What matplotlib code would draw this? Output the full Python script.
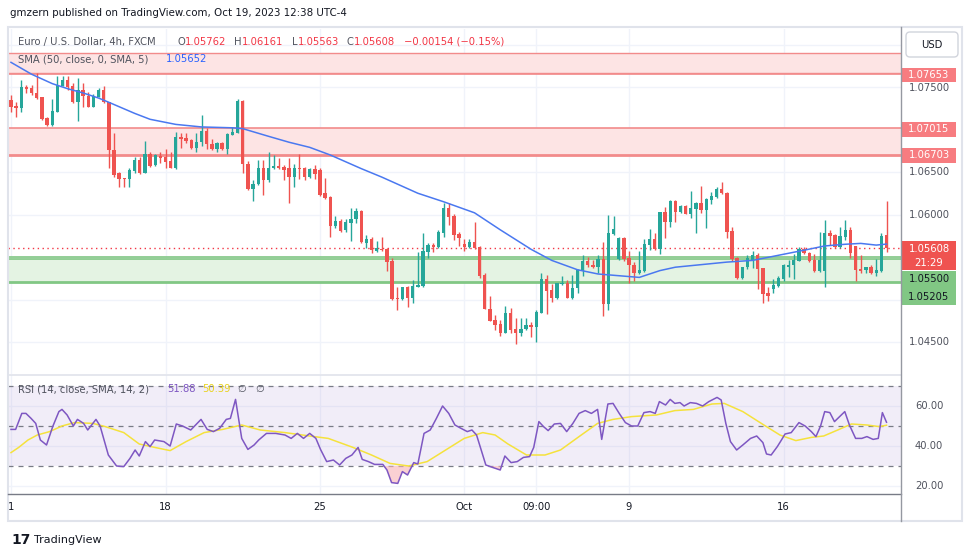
import matplotlib
matplotlib.use("Agg")
import matplotlib.pyplot as plt
from matplotlib.patches import Rectangle, FancyBboxPatch
import numpy as np

W, H = 970, 557

# ============ DATA ============
opens = [
    1.0735, 1.0728, 1.0725, 1.0750, 1.0749, 1.0743, 1.0738, 1.0714, 1.0705, 1.0721,
    1.0751, 1.0758, 1.0751, 1.0732, 1.0746, 1.0739, 1.0726, 1.0738, 1.0746, 1.0732,
    1.0676, 1.0649, 1.0643, 1.0642, 1.0651, 1.0664, 1.0649, 1.0671, 1.0658, 1.0669,
    1.0668, 1.0663, 1.0655, 1.0691, 1.0690, 1.0688, 1.0678, 1.0685, 1.0698, 1.0683,
    1.0677, 1.0684, 1.0677, 1.0694, 1.0696, 1.0734, 1.0659, 1.0630, 1.0636, 1.0655,
    1.0640, 1.0655, 1.0657, 1.0656, 1.0655, 1.0644, 1.0655, 1.0655, 1.0644, 1.0654,
    1.0652, 1.0625, 1.0621, 1.0587, 1.0592, 1.0582, 1.0590, 1.0595, 1.0604, 1.0567,
    1.0571, 1.0557, 1.0559, 1.0559, 1.0545, 1.0502, 1.0501, 1.0515, 1.0502, 1.0515,
    1.0516, 1.0556, 1.0564, 1.0562, 1.0578, 1.0608, 1.0598, 1.0577, 1.0565, 1.0562,
    1.0568, 1.0562, 1.0529, 1.0489, 1.0476, 1.0471, 1.0461, 1.0484, 1.0465, 1.0461,
    1.0465, 1.0470, 1.0468, 1.0484, 1.0524, 1.0511, 1.0502, 1.0518, 1.0519, 1.0502,
    1.0514, 1.0534, 1.0545, 1.0541, 1.0538, 1.0548, 1.0495, 1.0577, 1.0548, 1.0572,
    1.0549, 1.0541, 1.0531, 1.0534, 1.0564, 1.0571, 1.0559, 1.0603, 1.0591, 1.0616,
    1.0603, 1.0610, 1.0600, 1.0606, 1.0614, 1.0605, 1.0617, 1.0621, 1.0630, 1.0625,
    1.0581, 1.0549, 1.0525, 1.0538, 1.0547, 1.0552, 1.0537, 1.0508, 1.0512, 1.0516,
    1.0524, 1.0538, 1.0540, 1.0545, 1.0559, 1.0555, 1.0547, 1.0534, 1.0534, 1.0578,
    1.0576, 1.0562, 1.0574, 1.0582, 1.0563, 1.0536, 1.0535, 1.0538, 1.0531, 1.0534,
    1.05762,
]
highs = [
    1.0741, 1.0732, 1.0758, 1.0752, 1.0752, 1.0766, 1.0738, 1.0715, 1.0736, 1.0763,
    1.0763, 1.0763, 1.0755, 1.0761, 1.0755, 1.0744, 1.0742, 1.0749, 1.0751, 1.0732,
    1.0696, 1.0650, 1.0643, 1.0655, 1.0668, 1.0668, 1.0687, 1.0674, 1.0671, 1.0674,
    1.0677, 1.0673, 1.0697, 1.0696, 1.0696, 1.0689, 1.0696, 1.0717, 1.0702, 1.0689,
    1.0685, 1.0685, 1.0696, 1.0703, 1.0736, 1.0735, 1.0663, 1.0641, 1.0664, 1.0664,
    1.0673, 1.0670, 1.0667, 1.0658, 1.0667, 1.0659, 1.0671, 1.0656, 1.0655, 1.0658,
    1.0655, 1.0643, 1.0622, 1.0598, 1.0595, 1.0595, 1.0608, 1.0608, 1.0605, 1.0576,
    1.0574, 1.0569, 1.0574, 1.0561, 1.0549, 1.0515, 1.0515, 1.0516, 1.0523, 1.0556,
    1.0578, 1.0567, 1.0567, 1.0582, 1.0614, 1.0614, 1.0600, 1.0579, 1.0571, 1.0571,
    1.0591, 1.0563, 1.0531, 1.0504, 1.0482, 1.0476, 1.0492, 1.0490, 1.0478, 1.0478,
    1.0478, 1.0473, 1.0488, 1.0531, 1.0529, 1.0518, 1.0519, 1.0528, 1.0523, 1.0529,
    1.0536, 1.0552, 1.0550, 1.0547, 1.0552, 1.0568, 1.0599, 1.0598, 1.0573, 1.0574,
    1.0557, 1.0544, 1.0557, 1.0571, 1.0583, 1.0578, 1.0603, 1.0609, 1.0617, 1.0617,
    1.0611, 1.0611, 1.0628, 1.0615, 1.0634, 1.0619, 1.0627, 1.0632, 1.0638, 1.0627,
    1.0585, 1.0550, 1.0538, 1.0552, 1.0557, 1.0555, 1.0537, 1.0515, 1.0524, 1.0528,
    1.0542, 1.0547, 1.0554, 1.0562, 1.0562, 1.0556, 1.0554, 1.0579, 1.0594, 1.0582,
    1.0577, 1.0585, 1.0594, 1.0585, 1.0563, 1.0552, 1.0538, 1.0540, 1.0548, 1.0578,
    1.06161,
]
lows = [
    1.0721, 1.0715, 1.0721, 1.0743, 1.0741, 1.0736, 1.0711, 1.0704, 1.0704, 1.0721,
    1.0751, 1.0746, 1.0731, 1.0710, 1.0726, 1.0726, 1.0726, 1.0738, 1.0731, 1.0655,
    1.0644, 1.0632, 1.0632, 1.0632, 1.0649, 1.0648, 1.0649, 1.0656, 1.0657, 1.0661,
    1.0655, 1.0655, 1.0654, 1.0678, 1.0684, 1.0677, 1.0674, 1.0681, 1.0677, 1.0676,
    1.0673, 1.0676, 1.0671, 1.0693, 1.0696, 1.0649, 1.0629, 1.0616, 1.0635, 1.0623,
    1.0638, 1.0654, 1.0654, 1.0641, 1.0614, 1.0632, 1.0642, 1.0641, 1.0643, 1.0642,
    1.0622, 1.0618, 1.0574, 1.0584, 1.0579, 1.0579, 1.0569, 1.0590, 1.0567, 1.0561,
    1.0555, 1.0556, 1.0557, 1.0534, 1.0499, 1.0488, 1.0499, 1.0491, 1.0496, 1.0515,
    1.0515, 1.0549, 1.0556, 1.0561, 1.0574, 1.0588, 1.0570, 1.0563, 1.0557, 1.0561,
    1.0559, 1.0525, 1.0489, 1.0475, 1.0464, 1.0457, 1.0460, 1.0461, 1.0448, 1.0457,
    1.0464, 1.0456, 1.0450, 1.0484, 1.0483, 1.0497, 1.0501, 1.0517, 1.0502, 1.0501,
    1.0508, 1.0528, 1.0538, 1.0537, 1.0531, 1.0481, 1.0488, 1.0576, 1.0547, 1.0545,
    1.0519, 1.0522, 1.0530, 1.0532, 1.0558, 1.0558, 1.0554, 1.0572, 1.0585, 1.0591,
    1.0602, 1.0600, 1.0596, 1.0578, 1.0602, 1.0584, 1.0612, 1.0619, 1.0624, 1.0572,
    1.0545, 1.0524, 1.0524, 1.0536, 1.0537, 1.0512, 1.0496, 1.0498, 1.0508, 1.0515,
    1.0522, 1.0526, 1.0524, 1.0545, 1.0554, 1.0544, 1.0532, 1.0532, 1.0515, 1.0564,
    1.0561, 1.0561, 1.0570, 1.0549, 1.0522, 1.0531, 1.0531, 1.0530, 1.0528, 1.0532,
    1.05563,
]
closes = [
    1.0726, 1.0725, 1.0750, 1.0748, 1.0743, 1.0737, 1.0712, 1.0705, 1.0722, 1.0752,
    1.0758, 1.0750, 1.0732, 1.0746, 1.0739, 1.0726, 1.0739, 1.0746, 1.0732, 1.0676,
    1.0646, 1.0642, 1.0642, 1.0652, 1.0664, 1.0649, 1.0671, 1.0657, 1.0670, 1.0667,
    1.0662, 1.0655, 1.0691, 1.0689, 1.0687, 1.0678, 1.0685, 1.0698, 1.0683, 1.0677,
    1.0684, 1.0677, 1.0695, 1.0697, 1.0734, 1.0659, 1.0630, 1.0636, 1.0655, 1.0641,
    1.0655, 1.0657, 1.0655, 1.0652, 1.0644, 1.0655, 1.0654, 1.0644, 1.0654, 1.0648,
    1.0623, 1.0619, 1.0587, 1.0592, 1.0581, 1.0591, 1.0595, 1.0604, 1.0568, 1.0571,
    1.0558, 1.0561, 1.0558, 1.0544, 1.0501, 1.0500, 1.0515, 1.0502, 1.0516, 1.0517,
    1.0557, 1.0564, 1.0562, 1.0579, 1.0608, 1.0597, 1.0576, 1.0572, 1.0562, 1.0568,
    1.0561, 1.0528, 1.0489, 1.0475, 1.0470, 1.0461, 1.0484, 1.0464, 1.0461, 1.0465,
    1.0470, 1.0468, 1.0485, 1.0524, 1.0510, 1.0502, 1.0519, 1.0519, 1.0502, 1.0514,
    1.0535, 1.0545, 1.0540, 1.0538, 1.0548, 1.0495, 1.0578, 1.0583, 1.0572, 1.0548,
    1.0540, 1.0531, 1.0535, 1.0565, 1.0571, 1.0559, 1.0603, 1.0591, 1.0616, 1.0603,
    1.0610, 1.0600, 1.0608, 1.0614, 1.0605, 1.0618, 1.0622, 1.0630, 1.0625, 1.0579,
    1.0548, 1.0525, 1.0538, 1.0549, 1.0552, 1.0536, 1.0506, 1.0504, 1.0517, 1.0525,
    1.0540, 1.0541, 1.0547, 1.0559, 1.0555, 1.0545, 1.0534, 1.0547, 1.0578, 1.0575,
    1.0562, 1.0575, 1.0582, 1.0555, 1.0535, 1.0534, 1.0538, 1.0531, 1.0535, 1.0575,
    1.05608,
]

# SMA(50) at a few bars
sma_idx = [0, 4, 8, 11, 14, 17, 19, 24, 27, 32, 37, 43, 45, 50, 54, 58, 62, 68, 72, 79,
           84, 90, 95, 101, 105, 110, 114, 118, 122, 126, 129, 134, 139, 144, 149, 154,
           158, 162, 165, 168, 170]
sma_val = [1.0779, 1.0765, 1.0754, 1.0748, 1.0743, 1.0737, 1.0732, 1.0719, 1.0712, 1.0706,
           1.0703, 1.0702, 1.0701, 1.0692, 1.0685, 1.0679, 1.0670, 1.0654, 1.0644, 1.0625,
           1.0615, 1.0602, 1.0582, 1.0559, 1.0546, 1.0535, 1.0530, 1.0528, 1.0526, 1.0534,
           1.0538, 1.0541, 1.0544, 1.0546, 1.0552, 1.0558, 1.0563, 1.0565, 1.0566, 1.0564,
           1.05652]

# RSI(14) vertices
rsi_x = [0.0, 0.9, 2.1, 2.9, 3.9, 4.8, 5.7, 6.9, 8.1, 9.3, 9.9, 10.9, 12.1, 12.9, 14.1,
         14.9, 16.5, 17.3, 18.9, 20.5, 21.9, 23.1, 24.1, 24.9, 26.1, 27.0, 27.9, 29.7,
         30.9, 32.1, 33.3, 34.9, 36.9, 38.1, 39.3, 40.5, 41.8, 42.6, 43.6, 44.8, 46.0,
         47.2, 48.1, 49.6, 51.4, 53.2, 54.4, 55.6, 56.8, 58.0, 59.2, 60.1, 61.3, 62.6,
         63.8, 65.0, 66.2, 67.4, 68.2, 69.4, 70.6, 72.2, 73.0, 73.9, 75.1, 76.0, 77.0,
         78.2, 79.0, 80.2, 81.4, 82.6, 83.8, 85.0, 86.2, 87.4, 88.6, 89.5, 90.4, 91.4,
         92.2, 93.5, 95.0, 95.9, 97.1, 98.3, 99.5, 100.7, 101.5, 102.5, 103.4, 104.3,
         105.5, 106.7, 107.9, 109.1, 110.3, 111.5, 112.7, 113.9, 114.7, 115.9, 116.9,
         118.1, 119.3, 120.5, 121.7, 122.9, 124.1, 125.1, 125.9, 127.1, 128.0, 128.9,
         129.9, 130.7, 131.9, 133.1, 134.3, 135.5, 137.1, 137.9, 138.8, 139.7, 140.9,
         142.1, 143.6, 144.8, 146.0, 146.7, 147.6, 148.8, 149.6, 150.3, 151.5, 153.0,
         154.2, 155.4, 156.3, 157.2, 158.0, 159.0, 159.9, 160.9, 161.9, 162.8, 164.0,
         165.2, 166.2, 167.4, 168.4, 169.2, 170.0]
rsi_y = [48.3, 48.3, 56.3, 56.3, 53.8, 51.3, 43.0, 40.5, 49.7, 57.2, 58.3, 55.5, 50.0,
         53.3, 51.3, 48.0, 53.3, 50.0, 35.5, 30.0, 29.7, 33.8, 38.0, 35.0, 42.2, 39.7,
         43.0, 42.2, 40.0, 51.0, 50.0, 48.0, 53.3, 48.3, 47.2, 48.8, 53.3, 53.8, 63.3,
         43.8, 38.3, 40.5, 43.0, 46.3, 46.3, 45.5, 43.8, 46.3, 43.8, 46.3, 43.8, 38.3,
         32.2, 33.0, 30.5, 33.8, 35.5, 39.3, 33.3, 32.2, 30.8, 30.8, 28.0, 21.7, 21.3,
         27.2, 25.5, 31.7, 31.0, 46.3, 48.0, 53.8, 60.0, 56.3, 50.5, 48.8, 47.2, 48.0,
         45.5, 37.2, 30.5, 29.3, 28.0, 35.0, 31.7, 32.2, 34.3, 34.7, 39.3, 52.2, 49.7,
         47.7, 51.0, 51.3, 47.2, 51.3, 56.3, 57.7, 56.3, 58.3, 43.3, 61.0, 61.3, 56.3,
         51.7, 50.0, 50.0, 56.7, 57.2, 56.3, 62.2, 60.5, 63.3, 61.3, 61.7, 60.0, 61.7,
         61.3, 60.0, 62.2, 64.3, 63.0, 51.3, 42.2, 38.0, 40.5, 43.8, 45.0, 41.7, 36.0,
         35.5, 39.7, 43.0, 46.0, 46.7, 51.7, 50.0, 47.2, 44.7, 50.0, 57.2, 56.7, 52.2,
         54.7, 57.2, 50.5, 43.8, 43.8, 44.7, 43.3, 43.8, 56.7, 51.88]

# SMA(14) of RSI
rsi_ma_x = [0.0, 1.5, 3.3, 5.1, 7.5, 9.9, 12.3, 15.9, 18.3, 21.9, 24.9, 27.9, 30.9, 34.0,
            37.5, 41.1, 44.8, 48.4, 53.2, 58.0, 61.6, 66.4, 70.0, 73.6, 77.2, 80.8, 84.4,
            88.0, 91.6, 94.0, 96.5, 100.1, 103.7, 106.7, 110.3, 113.9, 116.9, 120.5, 125.3,
            128.9, 132.5, 136.1, 138.5, 142.1, 145.7, 149.3, 152.4, 155.4, 157.8, 160.8,
            163.2, 166.2, 168.6, 170.0]
rsi_ma_y = [36.7, 39.3, 43.0, 45.5, 47.2, 50.0, 51.7, 51.3, 49.7, 46.7, 41.0, 39.3, 37.7,
            42.2, 46.7, 48.3, 50.5, 48.0, 46.7, 45.0, 43.8, 39.3, 35.5, 31.3, 30.0, 32.2,
            38.0, 43.8, 46.7, 45.5, 41.0, 35.5, 35.5, 38.0, 44.7, 51.3, 53.3, 54.7, 55.5,
            57.7, 58.3, 61.0, 61.3, 57.2, 51.3, 45.5, 42.7, 44.3, 45.0, 48.3, 51.0, 50.5,
            49.7, 50.39]

# time axis labels (bar index, text)
tick_idx = [0, 30, 60, 88, 102, 120, 150]
tick_lbl = ["1", "18", "25", "Oct", "09:00", "9", "16"]

# drawn zones / levels
zone_top = (1.0790, 1.07665)
zone_mid = (1.07015, 1.06703)
zone_low = (1.0548, 1.05205)
level_lines = [1.07653, 1.05500]
last_price = 1.05608

# ============ STYLE ============
UP = "#26a69a"
DOWN = "#ef5350"
RED_LINE = "#f28b8b"
PINK_FILL = "#fde4e4"
GREEN_LINE = "#81c784"
GREEN_FILL = "#e4f3e3"
GRID = "#f0f3fa"
TXT = "#50535e"

plt.rcParams['font.family'] = ['DejaVu Sans']

fig = plt.figure(figsize=(W / 100, H / 100), dpi=100)
fig.patch.set_facecolor("white")


def px_box(left, top, right, bottom):
    return [left / W, 1 - bottom / H, (right - left) / W, (bottom - top) / H]


x_lo, x_hi = (8 - 11) / 5.15, (901 - 11) / 5.15

# ============ MAIN PANE ============
ax = fig.add_axes(px_box(8, 29, 901, 374))
ax.set_xlim(x_lo, x_hi)
ax.set_ylim(1.075 - 287 / 8500, 1.075 + 58 / 8500)
for s in ax.spines.values():
    s.set_visible(False)
ax.set_xticks([])
ax.set_yticks([])

for p in np.arange(1.045, 1.0801, 0.005):
    ax.axhline(p, color=GRID, lw=1, zorder=0)
for t in tick_idx:
    ax.axvline(t, color=GRID, lw=1, zorder=0)

# zones
ax.axhspan(zone_top[1], zone_top[0], color=PINK_FILL, lw=0, zorder=1)
ax.axhline(zone_top[0], color=RED_LINE, lw=1, zorder=1)
ax.axhline(zone_top[1], color=RED_LINE, lw=1, zorder=1)
ax.axhspan(zone_mid[1], zone_mid[0], color=PINK_FILL, lw=0, zorder=1)
ax.axhline(zone_mid[0], color=RED_LINE, lw=1.2, zorder=1)
ax.axhline(zone_mid[1], color=RED_LINE, lw=2, zorder=1)
ax.axhspan(zone_low[1], zone_low[0], color=GREEN_FILL, lw=0, zorder=1)
ax.axhline(zone_low[0], color=GREEN_LINE, lw=1.2, zorder=1)
ax.axhline(zone_low[1], color=GREEN_LINE, lw=2, zorder=1)
ax.axhline(level_lines[0], color=RED_LINE, lw=1.2, zorder=1)
ax.axhline(level_lines[1], color=GREEN_LINE, lw=1.2, zorder=1)
ax.axhline(last_price, color="#f23645", lw=1, ls=(0, (1, 2.5)), zorder=2)

# candles
idx = np.arange(len(closes))
o = np.array(opens)
c = np.array(closes)
cols = [UP if cc >= oo else DOWN for oo, cc in zip(o, c)]
ax.vlines(idx, lows, highs, colors=cols, lw=1, zorder=3)
body_lo = np.minimum(o, c)
body_h = np.maximum(np.abs(c - o), 0.00008)
ax.bar(idx, body_h, bottom=body_lo, width=0.66, color=cols, lw=0, zorder=4)

ax.plot(sma_idx, sma_val, color="#4a78f0", lw=1.1, zorder=5)

# ============ RSI PANE ============
ax2 = fig.add_axes(px_box(8, 375, 901, 494))
ax2.set_xlim(x_lo, x_hi)
ax2.set_ylim(16, 75.5)
for s in ax2.spines.values():
    s.set_visible(False)
ax2.set_xticks([])
ax2.set_yticks([])
for v in (20, 40, 60):
    ax2.axhline(v, color=GRID, lw=1, zorder=0)
for t in tick_idx:
    ax2.axvline(t, color=GRID, lw=1, zorder=0)
ax2.axhspan(30, 70, color="#7e57c2", alpha=0.1, lw=0, zorder=1)
for v in (70, 50, 30):
    ax2.axhline(v, color="#787b86", lw=0.9, ls=(0, (4, 4)), zorder=2)
rx = np.array(rsi_x)
ry = np.array(rsi_y)
ax2.fill_between(rx, ry, 30, where=ry < 30, interpolate=True,
                 color="#f7b2b6", alpha=0.6, lw=0, zorder=2)
ax2.plot(rsi_ma_x, rsi_ma_y, color="#f5e23c", lw=1.1, zorder=3)
ax2.plot(rsi_x, rsi_y, color="#7e57c2", lw=1.1, zorder=4)

# ============ OVERLAY (pixel coordinates) ============
ov = fig.add_axes([0, 0, 1, 1])
ov.set_xlim(0, W)
ov.set_ylim(H, 0)
ov.axis("off")
ov.patch.set_alpha(0)

# frame and separators
ov.add_patch(Rectangle((8, 27), 954, 494, fill=False, ec="#e0e3eb", lw=1.5))
ov.plot([8, 901], [374.5, 374.5], color="#e0e3eb", lw=1.2)
ov.plot([8, 901], [494, 494], color="#787b86", lw=1)
ov.plot([901, 901], [27, 521], color="#9598a1", lw=1)

# header
ov.text(10, 13, "gmzern published on TradingView.com, Oct 19, 2023 12:38 UTC-4",
        fontsize=7.4, color="#131722", va="center")

# legend line 1
ov.text(18, 42, "Euro / U.S. Dollar, 4h, FXCM", fontsize=7.2, color=TXT, va="center")
for xx, lab, col in [(178, "O", TXT), (185, "1.05762", "#f23645"),
                     (234, "H", TXT), (242, "1.06161", "#f23645"),
                     (292, "L", TXT), (298, "1.05563", "#f23645"),
                     (347, "C", TXT), (354, "1.05608", "#f23645"),
                     (404, "\u22120.00154 (\u22120.15%)", "#f23645")]:
    ov.text(xx, 42, lab, fontsize=7.2, color=col, va="center")
ov.text(18, 59, "SMA (50, close, 0, SMA, 5)", fontsize=7.2, color=TXT, va="center")
ov.text(166, 59, "1.05652", fontsize=7.2, color="#2962ff", va="center")

# RSI legend
ov.text(18, 389, "RSI (14, close, SMA, 14, 2)", fontsize=7.2, color=TXT, va="center")
ov.text(167, 389, "51.88", fontsize=7.2, color="#7e57c2", va="center")
ov.text(202, 389, "50.39", fontsize=7.2, color="#e8d21d", va="center")
ov.text(237, 389, "\u2205", fontsize=7.2, color=TXT, va="center")
ov.text(255, 389, "\u2205", fontsize=7.2, color=TXT, va="center")

# USD button
ov.add_patch(FancyBboxPatch((906, 32), 52, 25, boxstyle="round,pad=0,rounding_size=4",
                            fc="white", ec="#d1d4dc", lw=1))
ov.text(932, 44.5, "USD", fontsize=7.2, color="#131722", ha="center", va="center")

# price axis tick labels
for yy, lab in [(88, "1.07500"), (172, "1.06500"), (215, "1.06000"), (342, "1.04500"),
                (406, "60.00"), (446, "40.00"), (486, "20.00")]:
    ov.text(929, yy, lab, fontsize=7.2, color=TXT, ha="center", va="center")

# price labels
for top, bot, lab, fc, tc in [(68, 82, "1.07653", "#f77c80", "white"),
                              (122, 137, "1.07015", "#f77c80", "white"),
                              (148, 163, "1.06703", "#f77c80", "white"),
                              (271, 288, "1.05500", "#81c784", "#131722"),
                              (288, 305, "1.05205", "#81c784", "#131722")]:
    ov.add_patch(Rectangle((901.5, top), 55, bot - top, fc=fc, ec="none"))
    ov.text(929, (top + bot) / 2, lab, fontsize=7.2, color=tc, ha="center", va="center")
ov.add_patch(Rectangle((901.5, 241), 55, 29, fc="#ef5350", ec="none"))
ov.text(929, 249, "1.05608", fontsize=7.2, color="white", ha="center", va="center")
ov.text(929, 263, "21:29", fontsize=7.2, color="white", ha="center", va="center")

# time axis labels
for t, lab in zip(tick_idx, tick_lbl):
    xp = 11 + 5.15 * t
    ov.text(xp, 507, lab, fontsize=7.2, color="#131722", ha="center", va="center")

# footer logo
ov.text(11, 540, "17", fontsize=10, fontweight="heavy", color="#131722", va="center")
ov.text(34, 540, "TradingView", fontsize=8, color="#131722", va="center")

plt.savefig("out.png", dpi=100, facecolor="white")
